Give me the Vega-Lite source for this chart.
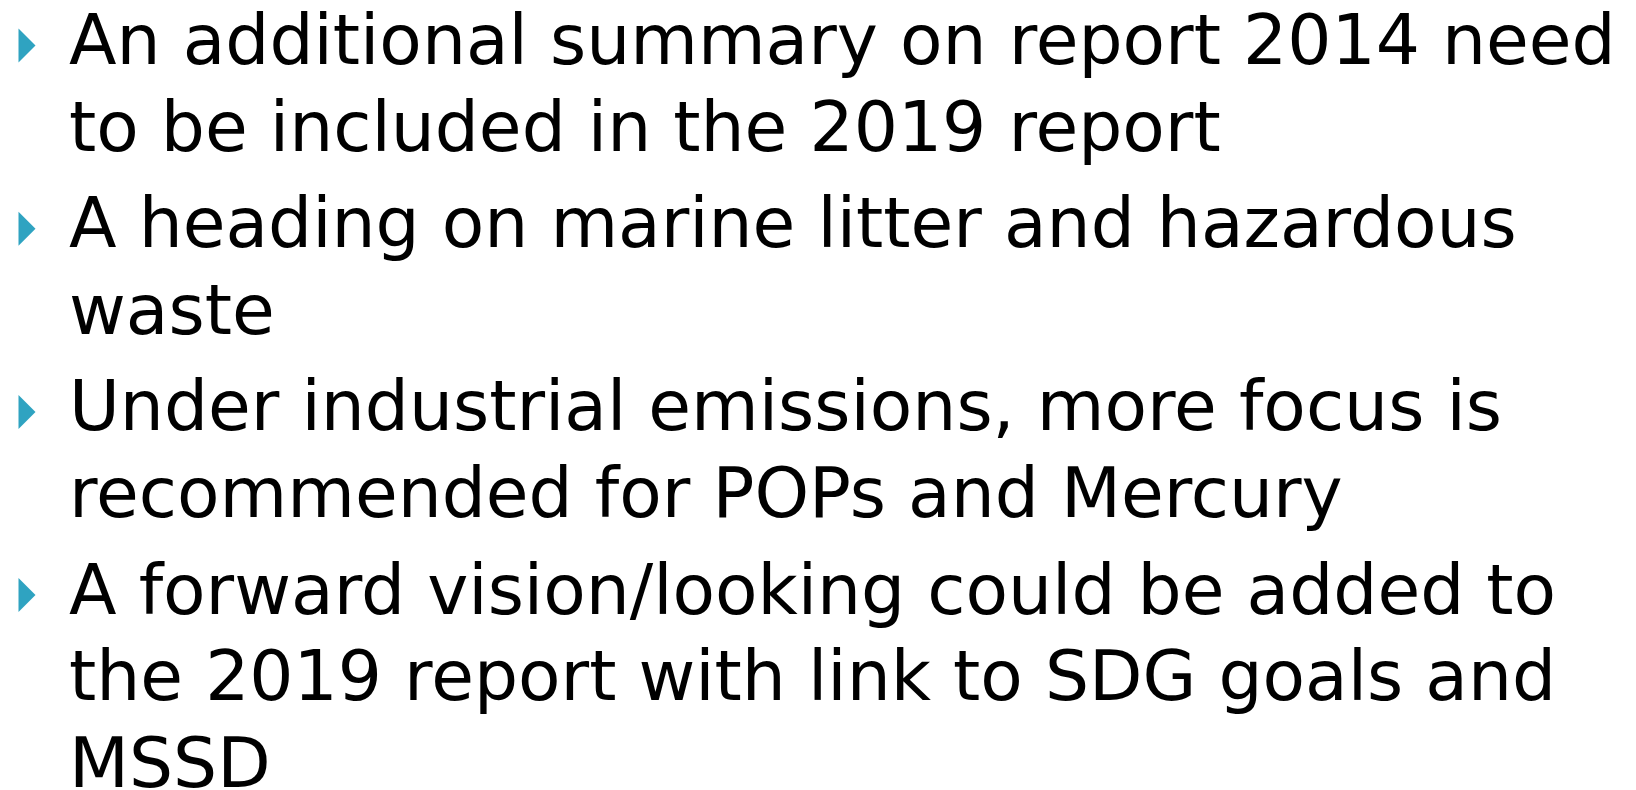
{
  "$schema": "https://vega.github.io/schema/vega-lite/v6.json",
  "width": 1636,
  "height": 790,
  "autosize": {"type": "fit", "contains": "padding"},
  "padding": 0,
  "background": "white",
  "config": {"view": {"stroke": null}},
  "data": {
    "values": [
      {"line": 1, "para": 1, "bullet": true, "text": "An additional summary on report 2014 need"},
      {"line": 2, "para": 1, "bullet": false, "text": "to be included in the 2019 report"},
      {"line": 3, "para": 2, "bullet": true, "text": "A heading on marine litter and hazardous"},
      {"line": 4, "para": 2, "bullet": false, "text": "waste"},
      {"line": 5, "para": 3, "bullet": true, "text": "Under industrial emissions, more focus is"},
      {"line": 6, "para": 3, "bullet": false, "text": "recommended for POPs and Mercury"},
      {"line": 7, "para": 4, "bullet": true, "text": "A forward vision/looking could be added to"},
      {"line": 8, "para": 4, "bullet": false, "text": "the 2019 report with link to SDG goals and"},
      {"line": 9, "para": 4, "bullet": false, "text": "MSSD"}
    ]
  },
  "resolve": {"scale": {"y": "independent"}},
  "layer": [
    {
      "transform": [{"filter": "datum.para == 1"}],
      "encoding": {"y": {"field": "line", "type": "quantitative", "scale": {"domain": [1, 9], "range": [64, 756.8], "nice": false, "zero": false}, "axis": null}},
      "layer": [
        {"mark": {"type": "text", "align": "left", "baseline": "alphabetic", "font": "DejaVu Sans", "fontSize": 69.5, "color": "black"}, "encoding": {"x": {"value": 69}, "text": {"field": "text"}}},
        {"transform": [{"filter": "datum.bullet"}], "mark": {"type": "point", "filled": true, "shape": "M-0.5,-2.088L0.5,-1.088L-0.5,-0.088Z", "size": 1156, "color": "#2FA3C1", "opacity": 1, "strokeWidth": 0}, "encoding": {"x": {"value": 27}}}
      ]
    },
    {
      "transform": [{"filter": "datum.para == 2"}],
      "encoding": {"y": {"field": "line", "type": "quantitative", "scale": {"domain": [1, 9], "range": [74, 766.8], "nice": false, "zero": false}, "axis": null}},
      "layer": [
        {"mark": {"type": "text", "align": "left", "baseline": "alphabetic", "font": "DejaVu Sans", "fontSize": 69.5, "color": "black"}, "encoding": {"x": {"value": 69}, "text": {"field": "text"}}},
        {"transform": [{"filter": "datum.bullet"}], "mark": {"type": "point", "filled": true, "shape": "M-0.5,-2.088L0.5,-1.088L-0.5,-0.088Z", "size": 1156, "color": "#2FA3C1", "opacity": 1, "strokeWidth": 0}, "encoding": {"x": {"value": 27}}}
      ]
    },
    {
      "transform": [{"filter": "datum.para == 3"}],
      "encoding": {"y": {"field": "line", "type": "quantitative", "scale": {"domain": [1, 9], "range": [84, 776.8], "nice": false, "zero": false}, "axis": null}},
      "layer": [
        {"mark": {"type": "text", "align": "left", "baseline": "alphabetic", "font": "DejaVu Sans", "fontSize": 69.5, "color": "black"}, "encoding": {"x": {"value": 69}, "text": {"field": "text"}}},
        {"transform": [{"filter": "datum.bullet"}], "mark": {"type": "point", "filled": true, "shape": "M-0.5,-2.088L0.5,-1.088L-0.5,-0.088Z", "size": 1156, "color": "#2FA3C1", "opacity": 1, "strokeWidth": 0}, "encoding": {"x": {"value": 27}}}
      ]
    },
    {
      "transform": [{"filter": "datum.para == 4"}],
      "encoding": {"y": {"field": "line", "type": "quantitative", "scale": {"domain": [1, 9], "range": [94, 786.8], "nice": false, "zero": false}, "axis": null}},
      "layer": [
        {"mark": {"type": "text", "align": "left", "baseline": "alphabetic", "font": "DejaVu Sans", "fontSize": 69.5, "color": "black"}, "encoding": {"x": {"value": 69}, "text": {"field": "text"}}},
        {"transform": [{"filter": "datum.bullet"}], "mark": {"type": "point", "filled": true, "shape": "M-0.5,-2.088L0.5,-1.088L-0.5,-0.088Z", "size": 1156, "color": "#2FA3C1", "opacity": 1, "strokeWidth": 0}, "encoding": {"x": {"value": 27}}}
      ]
    }
  ]
}
